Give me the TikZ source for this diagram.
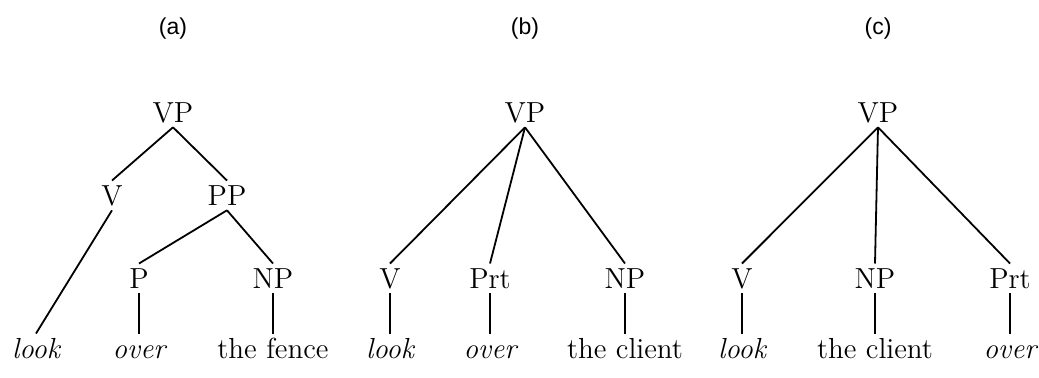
\documentclass[tikz,border=0pt]{standalone}
\usepackage{fontspec}
\newfontfamily\labelfont{Liberation Sans}

\begin{document}
\begin{tikzpicture}[x=0.5pt, y=-0.5pt, line width=0.9pt,
    cat/.style={anchor=base, inner xsep=0pt, inner ysep=2.2pt, text height=9.6pt, text depth=0pt, font=\fontsize{14.5}{17}\selectfont},
    word/.style={cat, font=\fontsize{14.5}{17}\selectfont\itshape},
    tag/.style={font=\labelfont\fontsize{11.5}{14}\selectfont}]
        \useasboundingbox (0,0) rectangle (1039,377);

        % (a)
        \node[tag] (tagA) at (173,29) {(a)};
        \node[cat] (vpA) at (173,122) {VP};
        \node[cat] (vA) at (112,205) {V};
        \node[cat] (ppA) at (227,205) {PP};
        \node[cat] (pA) at (139,288) {P};
        \node[cat] (npA) at (273,288) {NP};
        \node[word] (lookA) at (36,358) {look};
        \node[word] (overA) at (139,358) {over};
        \node[cat] (fenceA) at (273,358) {the fence};
        \draw (vpA.south) -- (vA.north);
        \draw (vpA.south) -- (ppA.north);
        \draw (vA.south) -- (lookA.north);
        \draw (ppA.south) -- (pA.north);
        \draw (ppA.south) -- (npA.north);
        \draw (pA.south) -- (overA.north);
        \draw (npA.south) -- (fenceA.north);

        % (b)
        \node[tag] (tagB) at (525,29) {(b)};
        \node[cat] (vpB) at (525,122) {VP};
        \node[cat] (vB) at (390,288) {V};
        \node[cat] (prtB) at (490,288) {Prt};
        \node[cat] (npB) at (625,288) {NP};
        \node[word] (lookB) at (390,358) {look};
        \node[word] (overB) at (490,358) {over};
        \node[cat] (clientB) at (625,358) {the client};
        \draw (vpB.south) -- (vB.north);
        \draw (vpB.south) -- (prtB.north);
        \draw (vpB.south) -- (npB.north);
        \draw (vB.south) -- (lookB.north);
        \draw (prtB.south) -- (overB.north);
        \draw (npB.south) -- (clientB.north);

        % (c)
        \node[tag] (tagC) at (878,29) {(c)};
        \node[cat] (vpC) at (878,122) {VP};
        \node[cat] (vC) at (742,288) {V};
        \node[cat] (npC) at (875,288) {NP};
        \node[cat] (prtC) at (1010,288) {Prt};
        \node[word] (lookC) at (742,358) {look};
        \node[cat] (clientC) at (875,358) {the client};
        \node[word] (overC) at (1010,358) {over};
        \draw (vpC.south) -- (vC.north);
        \draw (vpC.south) -- (npC.north);
        \draw (vpC.south) -- (prtC.north);
        \draw (vC.south) -- (lookC.north);
        \draw (npC.south) -- (clientC.north);
        \draw (prtC.south) -- (overC.north);
\end{tikzpicture}
\end{document}
